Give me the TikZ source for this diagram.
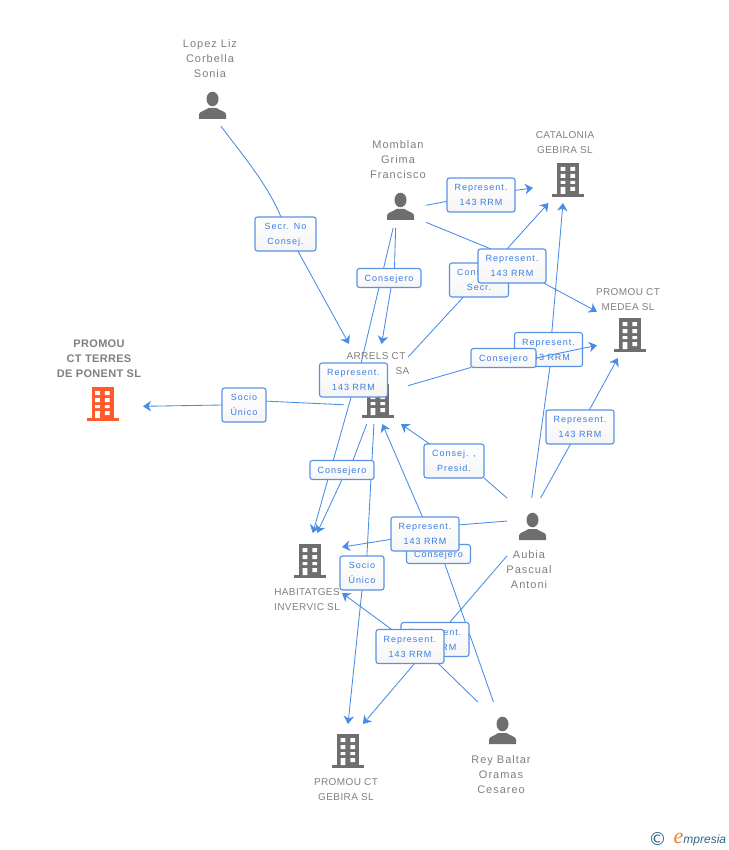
\documentclass[tikz,border=0pt]{standalone}
\usepackage{fontspec}
\usetikzlibrary{arrows.meta}
\newfontfamily\labfont[LetterSpace=11]{Liberation Sans}
\newfontfamily\persfont[LetterSpace=9]{Liberation Sans}
\newfontfamily\firmfont[LetterSpace=4]{Liberation Sans}
\newfontfamily\boldfirmfont[LetterSpace=3]{Liberation Sans Bold}
\newfontfamily\logofont{Liberation Serif Italic}
\newfontfamily\logoital{Liberation Sans Italic}
\newfontfamily\logosans{DejaVu Sans}
\definecolor{linkblue}{RGB}{72,140,232}
\definecolor{boxblue}{RGB}{88,146,230}
\definecolor{labtext}{RGB}{58,125,225}
\definecolor{nametext}{RGB}{128,128,128}
\definecolor{icongray}{RGB}{110,110,110}
\definecolor{mainorange}{RGB}{255,90,43}
\definecolor{logoteal}{RGB}{45,105,135}
\definecolor{logoorange}{RGB}{240,130,30}
\pgfdeclarelayer{under}
\pgfdeclarelayer{lines}
\pgfdeclarelayer{top}
\pgfsetlayers{under,lines,main,top}
\tikzset{
  lab/.style={rectangle,rounded corners=2.5pt,draw=boxblue,line width=1.1pt,top color=white,bottom color=black!4,
    text=labtext,font=\labfont\fontsize{9}{15}\selectfont,align=center,inner sep=0pt,outer sep=0pt,minimum height=34pt,text depth=0pt},
  labrep/.style={lab,minimum width=68pt},
  labone/.style={lab,minimum width=64pt,minimum height=19pt},
  labsocio/.style={lab,minimum width=44pt},
  entbox/.style={rectangle,inner sep=0pt,outer sep=0pt},
  persname/.style={text=nametext,font=\persfont\fontsize{11}{15}\selectfont,align=center,inner sep=0pt},
  firmname/.style={text=nametext,font=\firmfont\fontsize{10}{15}\selectfont,align=center,inner sep=0pt},
  mainname/.style={text=nametext,font=\boldfirmfont\fontsize{11}{15}\selectfont,align=center,inner sep=0pt},
  link/.style={draw=linkblue,line width=0.85pt},
  arrowlink/.style={link,-{Stealth[length=8pt,width=10.5pt,inset=2.5pt]}},
}
\newcommand{\personicon}[2]{%
  \begin{scope}[shift={(#1,#2)}]
    \fill[icongray] (0,-6.5) ellipse [x radius=6,y radius=7.3];
    \fill[icongray] (-13.5,13.5) -- (-13.5,9) .. controls (-13.5,6) and (-8,5.5) .. (-4,2.5) -- (4,2.5) .. controls (8,5.5) and (13.5,6) .. (13.5,9) -- (13.5,13.5) -- cycle;
  \end{scope}}
\newcommand{\firmicon}[3]{%
  \begin{scope}[shift={(#1,#2)}]
    \fill[#3] (-16,14) rectangle (16,17);
    \fill[#3] (-11,-17) rectangle (11,14.5);
    \fill[white] (-7.3,-13) rectangle (-2.7,-9) (2.3,-13) rectangle (7,-9)
      (-7.3,-6) rectangle (-2.7,-2) (2.3,-6) rectangle (7,-2)
      (-7.3,1) rectangle (-2.7,4) (2.3,1) rectangle (7,4)
      (-7.3,7) rectangle (-2.7,14) (2.3,7) rectangle (7,11);
  \end{scope}}
\begin{document}
\begin{tikzpicture}[x=1pt,y=-1pt]
\useasboundingbox (0,0) rectangle (728,850);

% entity boxes (connector ends lie on their borders)
\node[entbox,minimum width=66pt,minimum height=91pt] (lopez) at (212,80.5) {};
\node[entbox,minimum width=51pt,minimum height=93pt] (momblan) at (400.5,181.5) {};
\node[entbox,minimum width=68pt,minimum height=76pt] (catalonia) at (567,165) {};
\node[entbox,minimum width=66pt,minimum height=75pt] (medea) at (630,320.5) {};
\node[entbox,minimum width=64pt,minimum height=80pt] (arrels) at (376,384) {};
\node[entbox,minimum width=81pt,minimum height=90pt] (terres) at (102.5,380) {};
\node[entbox,minimum width=64pt,minimum height=80pt] (habitatges) at (310,573) {};
\node[entbox,minimum width=64pt,minimum height=78pt] (gebira) at (348,763) {};
\node[entbox,minimum width=51pt,minimum height=92pt] (aubia) at (532.5,544) {};
\node[entbox,minimum width=51pt,minimum height=93pt] (rey) at (502.5,748.5) {};

\begin{pgfonlayer}{under}
  \fill[white] (0,0) rectangle (728,850);
  \personicon{212.5}{105.5}
  \personicon{400.5}{206.5}
  \personicon{532.5}{526.5}
  \personicon{502.5}{730.5}
  \firmicon{568}{180}{icongray}
  \firmicon{630}{335}{icongray}
  \firmicon{378}{401}{icongray}
  \firmicon{310}{561}{icongray}
  \firmicon{348}{751}{icongray}
  \firmicon{102.5}{404}{mainorange}
  \node[persname] (lopezname) at (210,60) {\strut Lopez Liz\\Corbella\\Sonia\strut};
  \node[persname] (momblanname) at (398,160.5) {\strut Momblan\\Grima\\Francisco\strut};
  \node[persname] (aubianame) at (529,570) {\strut Aubia\\Pascual\\Antoni\strut};
  \node[persname] (reyname) at (501,775) {\strut Rey Baltar\\Oramas\\Cesareo\strut};
  \node[firmname] (cataloniname) at (565,143.5) {\strut CATALONIA\\GEBIRA SL\strut};
  \node[firmname] (medeaname) at (628,299.5) {\strut PROMOU CT\\MEDEA SL\strut};
  \node[firmname] (arrelsname) at (376,364) {\strut ARRELS CT\\\phantom{INVERVIC }SA\strut};
  \node[firmname] (habname) at (307,599.5) {\strut HABITATGES\\INVERVIC SL\strut};
  \node[firmname] (gebiraname) at (346,789.5) {\strut PROMOU CT\\GEBIRA SL\strut};
  \node[mainname] (terresname) at (99,359.5) {\strut PROMOU\\CT TERRES\\DE PONENT SL\strut};
  \node[text=logoteal,font=\logosans\fontsize{18}{18}\selectfont,inner sep=0pt] (logoc) at (657.5,839) {©};
  \node[text=logoteal,font=\logoital\fontsize{12}{15}\selectfont,inner sep=0pt,anchor=base west] (logot) at (673.5,843.5) {{\color{logoorange}\logofont\fontsize{22}{15}\selectfont e}mpresia};
\end{pgfonlayer}

% labels, lowest first
\node[lab,minimum width=61pt] (secr) at (285.5,234) {Secr. No\\Consej.};
\node[labone] (con389) at (389,278) {Consejero};
\node[labrep] (rep481) at (481,195) {Represent.\\143 RRM};
\node[lab,minimum width=59pt] (cons479) at (479,280) {Consej. ,\\Secr.};
\node[labrep] (rep512) at (512,266) {Represent.\\143 RRM};
\node[labsocio] (socio244) at (244,405) {Socio\\Único};
\node[labrep] (rep353) at (353.5,380) {Represent.\\143 RRM};
\node[labrep] (rep548) at (548.5,349.5) {Represent.\\143 RRM};
\node[lab,minimum width=60pt] (presid) at (454,461) {Consej. ,\\Presid.};
\node[labrep] (rep580) at (580,427) {Represent.\\143 RRM};
\node[labone] (con342) at (342,470) {Consejero};
\node[labone] (con438) at (438.5,554) {Consejero};
\node[labrep] (rep425) at (425,534) {Represent.\\143 RRM};
\node[labsocio] (socio362) at (362,573) {Socio\\Único};
\node[labrep] (rep435) at (435,639.5) {Represent.\\143 RRM};
\node[labrep] (rep410) at (410,646.5) {Represent.\\143 RRM};

\begin{pgfonlayer}{lines}
  % Lopez -> Arrels
  \draw[link] (lopez.-79) .. controls (240,152) and (267,183) .. (secr.105);
  \draw[arrowlink] (secr.-54) -- (arrels.124);
  % Momblan
  \draw[link] (momblan.-43) -- (rep481);
  \draw[arrowlink] (rep481) -- (catalonia.214);
  \draw[link] (momblan.-58) -- (rep512.141);
  \draw[arrowlink] (rep512) -- (medea.165.6);
  \draw[link] (momblan.-96) -- (con389.60);
  \draw[arrowlink] (con389.-78) -- (arrels.82);
  \draw[link] (momblan.-99.5) -- (rep353.66);
  \draw[arrowlink] (rep353.-98) -- (habitatges.86);
  % Arrels
  \draw[link] (arrels.40) -- (cons479);
  \draw[arrowlink] (cons479) -- (catalonia.244.7);
  \draw[link] (arrels.213.3) -- (socio244.10);
  \draw[arrowlink] (socio244.west) -- (terres.-33.7);
  \draw[link] (arrels.257.3) -- (con342.41);
  \draw[arrowlink] (con342.south) -- (habitatges.80);
  \draw[link] (arrels.267) -- (socio362.74);
  \draw[arrowlink] (socio362.south) -- (gebira.90);
  % Aubia
  \draw[link] (aubia.91) -- (rep548.-85);
  \draw[arrowlink] (rep548.79) -- (catalonia.264);
  \draw[link] (aubia.80) -- (rep580);
  \draw[arrowlink] (rep580) -- (medea.252.3);
  \draw[link] (aubia.119.5) -- (presid.south east);
  \draw[arrowlink] (presid) -- (arrels.-58);
  \draw[link] (aubia.138) -- (rep425.15);
  \draw[arrowlink] (rep425) -- (habitatges.39);
  \draw[link] (aubia.205) -- (rep435);
  \draw[arrowlink] (rep435) -- (gebira.69);
  % Rey
  \draw[link] (rey.101.5) -- (con438.-57);
  \draw[arrowlink] (con438) -- (arrels.-81.5);
  \draw[link] (rey.118.7) -- (rep410.-31);
  \draw[arrowlink] (rep410.137.4) -- (habitatges.-32);
\end{pgfonlayer}

\begin{pgfonlayer}{top}
  \node[labone,minimum width=65pt] (con503) at (503.5,358) {Consejero};
  \draw[link] (arrels.-3.6) -- (con503);
  \draw[arrowlink] (con503.east) -- (medea.217.7);
\end{pgfonlayer}
\end{tikzpicture}
\end{document}
